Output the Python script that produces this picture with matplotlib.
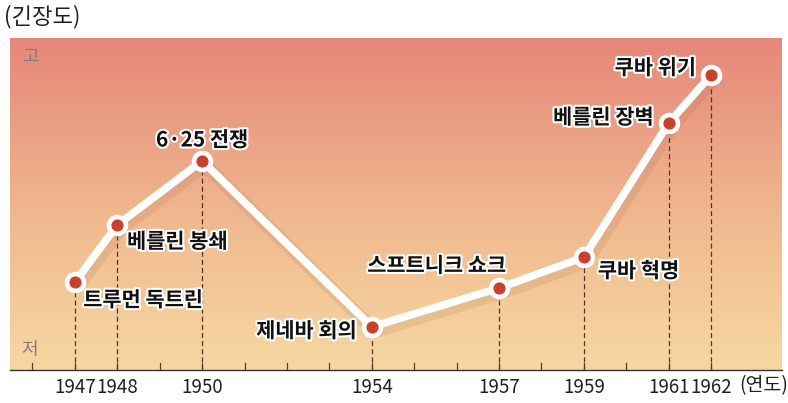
import matplotlib
matplotlib.use("Agg")
import matplotlib.pyplot as plt
import matplotlib.patheffects as pe
import numpy as np
from matplotlib.colors import LinearSegmentedColormap

plt.rcParams['font.family'] = ['Noto Sans CJK KR', 'DejaVu Sans']

years = [1947, 1948, 1950, 1954, 1957, 1959, 1961, 1962]
tension = [26.5, 43.7, 63.0, 13.0, 24.7, 34.0, 74.4, 88.9]
events = ["트루먼 독트린", "베를린 봉쇄", "6·25 전쟁", "제네바 회의",
          "스프트니크 쇼크", "쿠바 혁명", "베를린 장벽", "쿠바 위기"]
tick_years = [1947, 1948, 1950, 1954, 1957, 1959, 1961, 1962]

W, H = 788, 403
fig = plt.figure(figsize=(W / 100, H / 100), dpi=100)
ax = fig.add_axes([10 / W, 33 / H, 772 / W, 332 / H])
x0, x1 = 1945.47, 1963.67
ax.set_xlim(x0, x1)
ax.set_ylim(0, 100)

cmap = LinearSegmentedColormap.from_list(
    "bg", [(0.0, "#f6d8a2"), (0.45, "#f0b98f"), (1.0, "#e5877a")])
grad = np.linspace(0, 1, 256).reshape(-1, 1)
ax.imshow(grad, aspect="auto", cmap=cmap, origin="lower",
          extent=[x0, x1, 0, 100], zorder=0)

# dashed drops
for yr, t in zip(years, tension):
    ax.plot([yr, yr], [0, t], ls=(0, (4, 2.5)), color="#5a3020", lw=0.9, zorder=2)

# minor ticks for each year
for yr in range(1946, 1963):
    ax.plot([yr, yr], [0, 2.2], color="#5a3a30", lw=0.9, zorder=2)

shadow = [pe.SimpleLineShadow(offset=(2, -3), shadow_color="#9a5a40", alpha=0.13, linewidth=10), pe.Normal()]
ax.plot(years, tension, color="white", lw=5.5, solid_capstyle="round",
        zorder=3, path_effects=shadow)
ax.scatter(years, tension, s=210, color="white", zorder=4)
ax.scatter(years, tension, s=60, color="#c9412a", zorder=5)

stroke = [pe.withStroke(linewidth=3, foreground="white")]
# label placement (offsets in points)
placements = [
    (6, -13, "left", "center"),
    (7, -12, "left", "center"),
    (0, 15, "center", "center"),
    (-11, -3, "right", "center"),
    (-45, 16, "center", "center"),
    (10, -10, "left", "center"),
    (-11, 4, "right", "center"),
    (-11, 5, "right", "center"),
]
for yr, t, lab, (dx, dy, ha, va) in zip(years, tension, events, placements):
    ax.annotate(lab, (yr, t), xytext=(dx, dy), textcoords="offset points",
                ha=ha, va=va, fontsize=15, fontweight="heavy", color="#111111",
                path_effects=stroke, zorder=6)

ax.text(30, H - 57, "고", transform=None, fontsize=13, color="#8a7880",
        ha="center", va="center")
ax.text(30, H - 350, "저", transform=None, fontsize=13, color="#8a7880",
        ha="center", va="center")
fig.text(4 / W, 1 - 17 / H, "(긴장도)", fontsize=16, color="#222222",
         ha="left", va="center")

for s in ["top", "right", "left"]:
    ax.spines[s].set_visible(False)
ax.spines["bottom"].set_color("#333333")
ax.spines["bottom"].set_linewidth(1.0)
ax.set_yticks([])
ax.set_xticks(tick_years)
ax.set_xticklabels([str(y) for y in tick_years], fontsize=13.5, color="#222222")
ax.tick_params(axis="x", length=0, pad=5)
fig.text(739 / W, 1 - 386 / H, "(연도)", fontsize=14, color="#222222",
         ha="left", va="center")

fig.savefig("out.png", dpi=100)
